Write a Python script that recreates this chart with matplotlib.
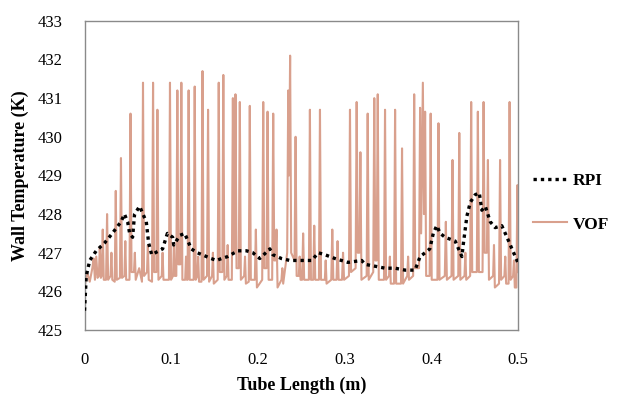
import matplotlib.pyplot as plt

plt.rcParams['font.family'] = ['Liberation Serif', 'DejaVu Serif']

# VOF wall temperature (spiky signal)
vof_x = [0.000, 0.003, 0.006, 0.009, 0.0105, 0.012, 0.0135, 0.015, 0.0165, 0.0176,
         0.0188, 0.0198, 0.021, 0.0222, 0.0248, 0.026, 0.0272, 0.030, 0.031, 0.032,
         0.0348, 0.036, 0.0372, 0.0408, 0.042, 0.0432, 0.046, 0.047, 0.048, 0.0518,
         0.053, 0.0542, 0.057, 0.058, 0.059, 0.063, 0.0662, 0.0674, 0.0686, 0.072,
         0.073, 0.074, 0.0778, 0.079, 0.0802, 0.0828, 0.084, 0.0852, 0.089, 0.090,
         0.091, 0.0973, 0.0985, 0.0997, 0.102, 0.103, 0.104, 0.1058, 0.107, 0.1082,
         0.1104, 0.1116, 0.1128, 0.116, 0.117, 0.118, 0.1188, 0.120, 0.1212, 0.1258,
         0.127, 0.1282, 0.130, 0.131, 0.132, 0.1348, 0.136, 0.1372, 0.1412, 0.1424,
         0.1436, 0.147, 0.148, 0.149, 0.1535, 0.1547, 0.1559, 0.1588, 0.160, 0.1612,
         0.164, 0.165, 0.166, 0.1698, 0.171, 0.1722, 0.1728, 0.174, 0.1752, 0.1778,
         0.179, 0.1802, 0.184, 0.185, 0.186, 0.1893, 0.1905, 0.1917, 0.1963, 0.1975,
         0.1987, 0.2048, 0.206, 0.2072, 0.2098, 0.211, 0.2122, 0.2163, 0.2175, 0.2187,
         0.2201, 0.2213, 0.2225, 0.227, 0.228, 0.229, 0.2336, 0.2348, 0.2358, 0.237,
         0.2382, 0.2421, 0.2433, 0.2445, 0.247, 0.248, 0.249, 0.2508, 0.252, 0.2532,
         0.2586, 0.2598, 0.261, 0.2636, 0.2648, 0.266, 0.2702, 0.2714, 0.2726, 0.277,
         0.278, 0.279, 0.2844, 0.2856, 0.2868, 0.2905, 0.2917, 0.2929, 0.2968, 0.298,
         0.2992, 0.3048, 0.306, 0.3072, 0.3125, 0.3137, 0.3149, 0.3168, 0.318, 0.3192,
         0.3252, 0.3264, 0.3276, 0.3328, 0.334, 0.3352, 0.3368, 0.338, 0.3392, 0.3452,
         0.3464, 0.3476, 0.351, 0.352, 0.353, 0.3568, 0.358, 0.3592, 0.3648, 0.366,
         0.3672, 0.372, 0.373, 0.374, 0.3788, 0.380, 0.3812, 0.3856, 0.3868, 0.388,
         0.390, 0.3913, 0.3926, 0.3938, 0.3978, 0.399, 0.4002, 0.4068, 0.408, 0.4092,
         0.4153, 0.4165, 0.4177, 0.423, 0.4242, 0.4254, 0.4308, 0.432, 0.4332, 0.438,
         0.439, 0.440, 0.4445, 0.4457, 0.4469, 0.4522, 0.4534, 0.4546, 0.4588, 0.460,
         0.4612, 0.4638, 0.465, 0.4662, 0.471, 0.472, 0.473, 0.4778, 0.479, 0.4802,
         0.484, 0.485, 0.486, 0.4888, 0.490, 0.4912, 0.494, 0.495, 0.496, 0.4978,
         0.499, 0.500]
vof_y = [426.1, 426.5, 426.25, 426.6, 426.85, 426.3, 426.9, 426.35, 426.4, 427.15,
         426.35, 426.4, 427.6, 426.3, 426.3, 428.0, 426.3, 426.4, 427.0, 426.3,
         426.25, 428.6, 426.3, 426.35, 429.45, 426.35, 426.4, 427.3, 426.3, 426.3,
         430.6, 426.5, 426.5, 427.0, 426.3, 426.6, 426.25, 431.4, 426.4, 426.5,
         427.2, 426.3, 426.25, 431.4, 426.5, 426.5, 430.7, 426.3, 426.4, 427.0,
         426.3, 426.3, 431.4, 426.3, 426.4, 427.2, 426.4, 426.4, 431.2, 426.7,
         426.7, 431.4, 426.3, 426.3, 426.9, 426.3, 426.3, 431.2, 426.3, 426.3,
         431.3, 426.3, 426.4, 426.9, 426.25, 426.25, 431.7, 426.3, 426.4, 430.7,
         426.25, 426.4, 427.0, 426.2, 426.3, 431.4, 426.5, 426.5, 431.6, 426.3,
         426.4, 427.2, 426.3, 426.3, 431.0, 427.0, 427.0, 431.1, 426.6, 426.6,
         430.9, 426.3, 426.4, 426.9, 426.2, 426.25, 430.8, 426.3, 426.3, 427.6,
         426.1, 426.3, 430.9, 426.6, 426.6, 430.65, 426.3, 426.3, 430.6, 426.8,
         426.8, 427.6, 426.1, 426.3, 426.6, 426.2, 427.0, 431.2, 429.0, 432.1,
         427.0, 426.8, 430.0, 426.4, 426.4, 426.9, 426.3, 426.3, 427.5, 426.3,
         426.3, 430.7, 426.3, 426.3, 427.7, 426.3, 426.3, 430.7, 426.3, 426.3,
         426.8, 426.2, 426.3, 427.6, 426.3, 426.3, 427.3, 426.3, 426.3, 427.0,
         426.3, 426.4, 430.7, 426.5, 426.6, 430.9, 427.0, 427.0, 429.6, 426.3,
         426.4, 430.6, 426.3, 426.5, 431.0, 426.8, 426.8, 431.1, 426.3, 426.3,
         430.7, 426.3, 426.4, 426.9, 426.2, 426.2, 430.7, 426.2, 426.2, 429.7,
         426.2, 426.4, 426.9, 426.3, 426.4, 431.1, 426.6, 426.6, 430.75, 427.5,
         431.4, 428.0, 430.65, 426.4, 426.4, 430.6, 426.3, 426.3, 430.35, 426.3,
         426.4, 427.8, 426.3, 426.4, 429.4, 426.3, 426.4, 430.1, 426.3, 426.4,
         427.0, 426.3, 426.4, 430.9, 426.5, 426.5, 430.65, 426.5, 426.5, 430.9,
         427.0, 427.0, 429.4, 426.3, 426.4, 427.2, 426.1, 426.2, 429.4, 426.3,
         426.4, 426.9, 426.2, 426.2, 430.9, 426.3, 426.4, 426.8, 426.1, 426.1,
         428.75, 426.5]

# RPI wall temperature (smooth dotted curve)
rpi_x = [0.000, 0.002, 0.006, 0.0135, 0.023, 0.032, 0.042, 0.046, 0.0497, 0.052,
         0.0554, 0.0577, 0.0635, 0.0712, 0.0739, 0.0774, 0.090, 0.0955, 0.1016, 0.1028,
         0.110, 0.1155, 0.123, 0.130, 0.146, 0.152, 0.158, 0.165, 0.1767, 0.1867,
         0.194, 0.202, 0.2136, 0.217, 0.227, 0.2367, 0.250, 0.262, 0.2694, 0.277,
         0.2887, 0.3037, 0.3195, 0.3233, 0.335, 0.3464, 0.358, 0.3695, 0.381, 0.3868,
         0.3926, 0.398, 0.402, 0.406, 0.410, 0.4157, 0.4215, 0.4273, 0.435, 0.4365,
         0.4408, 0.4446, 0.4503, 0.455, 0.458, 0.462, 0.4677, 0.4734, 0.481, 0.487,
         0.4927, 0.4985, 0.500]
rpi_y = [425.5, 426.4, 426.8, 427.05, 427.25, 427.5, 427.8, 428.0, 427.8, 427.5,
         427.4, 428.0, 428.2, 427.8, 427.25, 426.95, 427.1, 427.5, 427.4, 427.2,
         427.45, 427.5, 427.1, 427.0, 426.85, 426.8, 426.85, 426.9, 427.05, 427.05,
         427.0, 426.85, 427.1, 426.95, 426.85, 426.8, 426.8, 426.8, 427.0, 426.95,
         426.85, 426.75, 426.8, 426.7, 426.65, 426.6, 426.6, 426.55, 426.55, 426.9,
         427.0, 427.1, 427.5, 427.7, 427.5, 427.4, 427.35, 427.3, 426.9, 427.2,
         427.95, 428.3, 428.5, 428.55, 428.1, 428.2, 427.8, 427.65, 427.7, 427.4,
         427.1, 426.8, 426.7]

xticks = [0, 0.1, 0.2, 0.3, 0.4, 0.5]
xticklabels = ['0', '0.1', '0.2', '0.3', '0.4', '0.5']
yticks = [425, 426, 427, 428, 429, 430, 431, 432, 433]

fig = plt.figure(figsize=(6.17, 4.01), dpi=100)
ax = fig.add_axes([0.137, 0.177, 0.703, 0.771])

l_vof, = ax.plot(vof_x, vof_y, color='#D9A08D', lw=1.5, label='VOF')
l_rpi, = ax.plot(rpi_x, rpi_y, color='black', lw=2.4, linestyle=(0, (1, 1.2)),
                 label='RPI', zorder=3)

ax.set_xlim(0, 0.5)
ax.set_ylim(425, 433)
ax.set_xticks(xticks)
ax.set_xticklabels(xticklabels)
ax.set_yticks(yticks)
ax.tick_params(length=0, labelsize=12)
ax.tick_params(axis='x', pad=16)
ax.tick_params(axis='y', pad=16)
for s in ax.spines.values():
    s.set_color('#8a8a8a')
    s.set_linewidth(1)

ax.set_xlabel('Tube Length (m)', fontsize=13, fontweight='bold', labelpad=6)
ax.set_ylabel('Wall Temperature (K)', fontsize=13, fontweight='bold', labelpad=6)

fig.legend(handles=[l_rpi, l_vof], loc='center left', bbox_to_anchor=(0.838, 0.494),
           frameon=False, prop={'weight': 'bold', 'size': 12.5},
           handlelength=2.0, handletextpad=0.3, labelspacing=1.55)

plt.savefig('out.png', dpi=100)
